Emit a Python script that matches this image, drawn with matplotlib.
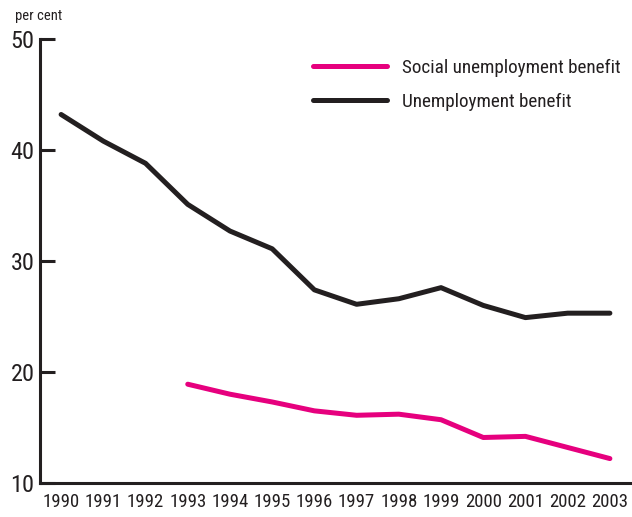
import matplotlib
matplotlib.use("Agg")
import matplotlib.pyplot as plt
from matplotlib import font_manager

years = list(range(1990, 2004))
unemployment_benefit = [43.2, 40.8, 38.8, 35.1, 32.7, 31.1, 27.4, 26.1, 26.6, 27.6, 26.0, 24.9, 25.3, 25.3]
social_years = list(range(1993, 2004))
social_unemployment_benefit = [18.9, 18.0, 17.3, 16.5, 16.1, 16.2, 15.7, 14.1, 14.2, 13.2, 12.2]
y_ticks = [10, 20, 30, 40, 50]

# Prefer a narrow sans face; fall back to condensed DejaVu
names = {f.name for f in font_manager.fontManager.ttflist}
if "Liberation Sans Narrow" in names:
    plt.rcParams["font.family"] = ["Liberation Sans Narrow", "DejaVu Sans"]
elif "Roboto Condensed" in names:
    plt.rcParams["font.family"] = ["Roboto Condensed", "DejaVu Sans"]
else:
    plt.rcParams["font.family"] = ["DejaVu Sans"]
    plt.rcParams["font.stretch"] = "condensed"

PINK = "#E6007E"
DARK = "#231F20"

fig = plt.figure(figsize=(6.32, 5.17), dpi=100)
ax = fig.add_axes([40 / 632, 1 - 483 / 517, (631 - 40) / 632, (483 - 39) / 517])

ax.plot(social_years, social_unemployment_benefit, color=PINK, lw=3.6,
        solid_capstyle="round", solid_joinstyle="round", label="Social unemployment benefit")
ax.plot(years, unemployment_benefit, color=DARK, lw=3.6,
        solid_capstyle="round", solid_joinstyle="round", label="Unemployment benefit")

ax.set_xlim(1989.5, 2003.5)
ax.set_ylim(10, 50)
ax.set_yticks(y_ticks)
ax.set_xticks(years)
ax.set_xticklabels([str(y) for y in years])

for side in ("top", "right"):
    ax.spines[side].set_visible(False)
for side in ("left", "bottom"):
    ax.spines[side].set_linewidth(2.2)
    ax.spines[side].set_color(DARK)

ax.tick_params(axis="y", direction="in", length=11, width=2.2, color=DARK,
               labelsize=17.5, labelcolor=DARK, pad=4)
ax.tick_params(axis="x", length=0, labelsize=13.5, labelcolor=DARK, pad=7)

fig.text(15 / 632, 1 - 16 / 517, "per cent", fontsize=10.5, color=DARK, va="center", ha="left")

ax.legend(loc="upper left", bbox_to_anchor=(0.432, 0.995), frameon=False,
          fontsize=13.8, handlelength=3.9, handletextpad=0.75, labelspacing=0.85,
          labelcolor=DARK)

fig.savefig("out.png", dpi=100)
